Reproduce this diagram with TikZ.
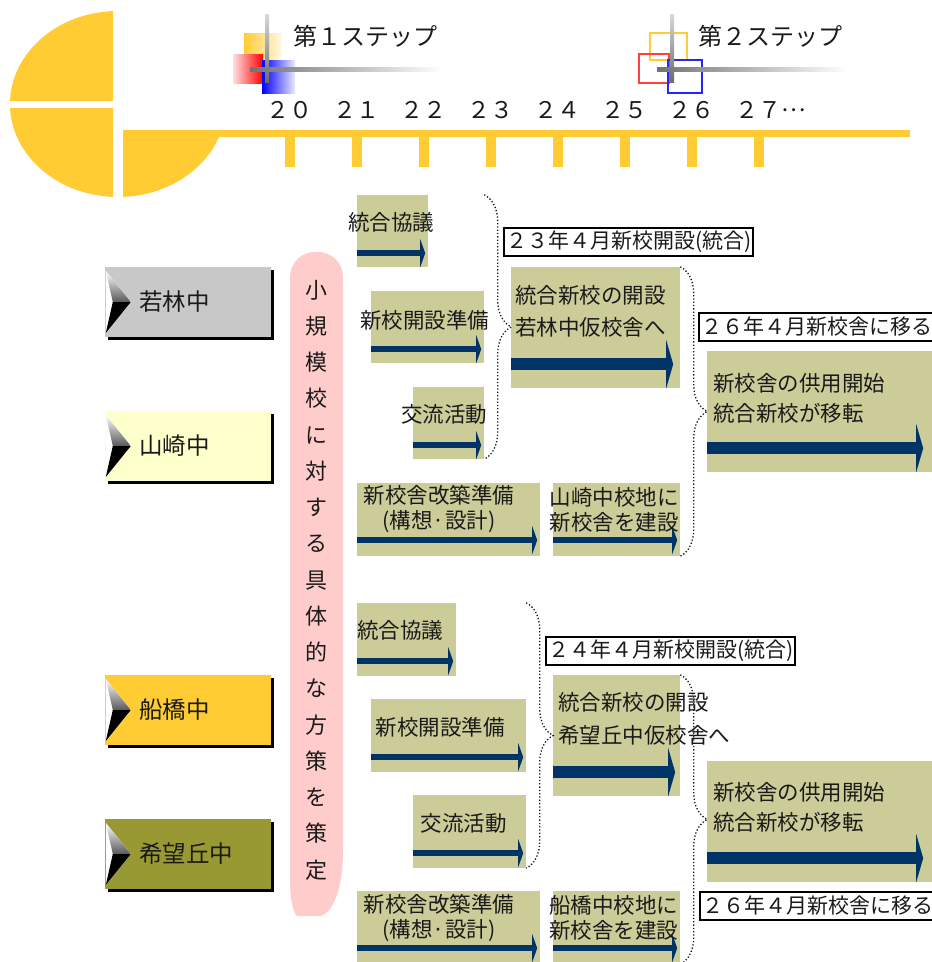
\documentclass[tikz,border=0pt]{standalone}
\usepackage{fontspec}
\setmainfont{Noto Sans CJK JP}
\usetikzlibrary{arrows.meta, decorations.pathreplacing}

\definecolor{keyyellow}{HTML}{FFCC33}
\definecolor{khaki}{HTML}{CCCC99}
\definecolor{navy}{HTML}{003366}
\definecolor{ink}{HTML}{1A1A1A}
\definecolor{btngray}{HTML}{C8C8C8}
\definecolor{btncream}{HTML}{FFFFCC}
\definecolor{btngold}{HTML}{FFCC33}
\definecolor{btnolive}{HTML}{999933}
\definecolor{banner}{HTML}{FFCCCC}

\begin{document}
\begin{tikzpicture}[x=1pt, y=-1pt,
    act/.style={fill=khaki, inner sep=0pt},
    txt/.style={inner sep=0pt, text=ink, font=\fontsize{21.5}{25}\selectfont},
    tag/.style={draw=black, line width=2pt, fill=white, inner xsep=2pt, inner ysep=0pt,
        minimum height=28pt, text=ink, font=\fontsize{21}{25}\selectfont},
    school/.style={minimum width=166pt, minimum height=70pt, inner sep=0pt, text width=98pt,
        align=left, text=ink, font=\fontsize{23.5}{28}\selectfont,
        preaction={fill=black, transform canvas={shift={(3pt,-3pt)}}}},
    flow/.style={navy, line width=6pt, -{Triangle[length=5pt, width=28pt]}},
    bigflow/.style={navy, line width=12pt, -{Triangle[length=7pt, width=48pt]}},
    curly/.style={draw=ink, decorate, decoration={brace, amplitude=27pt}, dotted, line width=1.3pt}]
\useasboundingbox (0,0) rectangle (932,962);

% key shaped time line
\begin{scope}
  \clip (0,0) rectangle (113,100);
  \fill[keyyellow] (118,104) ellipse [x radius=108pt, y radius=93pt];
\end{scope}
\begin{scope}
  \clip (0,108) rectangle (113,210);
  \fill[keyyellow] (118,104) ellipse [x radius=108pt, y radius=93pt];
\end{scope}
\begin{scope}
  \clip (123,130) rectangle (240,210);
  \fill[keyyellow] (118,104) ellipse [x radius=108pt, y radius=93pt];
\end{scope}
\fill[keyyellow] (123,130) rectangle (910,137);
\foreach \i/\yr in {0/２０, 1/２１, 2/２２, 3/２３, 4/２４, 5/２５, 6/２６, 7/２７\raisebox{0.32em}{…}} {
  \fill[keyyellow] ({290+67*\i-5},137) rectangle ++(10,30);
  \node[anchor=west, inner sep=0pt, text=ink, font=\fontsize{23}{25}\selectfont] (yr\i) at ({290+67*\i-24},110) {\yr};
}

% step markers
\shade[left color=keyyellow, right color=keyyellow!15] (244,33) rectangle (281,60);
\shade[left color=red!12, right color=red] (233,54) rectangle (263,83);
\shade[left color=blue, right color=blue!8] (262,60) rectangle (295,93);
\shade[top color=gray!30, bottom color=gray!85!black] (265,14) rectangle (269,82);
\shade[left color=gray!90!black, right color=white] (250,67) rectangle (442,71);
\node[inner sep=0pt, text=ink, font=\fontsize{24}{28}\selectfont] (step1) at (365,36) {第１ステップ};

\draw[keyyellow, line width=1.3pt] (650,33) rectangle (687,60);
\draw[red!75, line width=1.3pt] (639,54) rectangle (669,83);
\draw[blue!85, line width=1.3pt] (668,60) rectangle (702,93);
\shade[top color=gray!30, bottom color=gray!85!black] (670,14) rectangle (674,82);
\shade[left color=gray!90!black, right color=white] (657,67) rectangle (847,71);
\node[inner sep=0pt, text=ink, font=\fontsize{24}{28}\selectfont] (step2) at (770,36) {第２ステップ};

% schools
\node[school, fill=btngray] (wakabayashi) at (188,302) {若林中};
\node[school, fill=btncream] (yamazaki) at (188,446) {山崎中};
\node[school, fill=btngold] (funabashi) at (188,710) {船橋中};
\node[school, fill=btnolive] (kibougaoka) at (188,854) {希望丘中};
\foreach \s in {wakabayashi, yamazaki, funabashi, kibougaoka} {
  \fill[white] (\s.west) ++(1,-31) -- ++(25,31) -- ++(-25,31) -- cycle;
  \shade[top color=white, bottom color=gray!70!black] (\s.west) ++(1,-31) -- ++(25,31) -- ++(-18,0) -- cycle;
  \fill[black] (\s.west) ++(8,0) -- ++(18,0) -- ++(-25,31) -- cycle;
}

% policy banner
\fill[banner] (290,278) .. controls (290,243) and (343,243) .. (343,278) -- (343,852)
  .. controls (343,890) and (332,914) .. (320,916) -- (297,916)
  .. controls (293,912) and (290,900) .. (290,880) -- cycle;
\node[inner sep=0pt, align=center, text=ink, font=\fontsize{22}{36.25}\selectfont] (policy) at (316,580)
  {小\\規\\模\\校\\に\\対\\す\\る\\具\\体\\的\\な\\方\\策\\を\\策\\定};

% activity boxes
\foreach \n/\x/\y/\w/\h in {kyogi1/392.5/231/71/72, jyunbi1/427.5/327/113/72, koryu1/448.5/423/71/72,
    kaichiku1/448.5/519.5/183/73, kensetsu1/616.5/519.5/127/73, kaisetsu1/595.5/327.5/169/121,
    kyoyo1/819.5/411.5/225/121,
    kyogi2/406.5/639.5/99/73, jyunbi2/448.5/735.5/155/73, koryu2/469.5/831.5/113/73,
    kaichiku2/448.5/927.5/183/73, kensetsu2/616.5/927.5/127/73, kaisetsu2/616.5/735.5/127/121,
    kyoyo2/819.5/821.5/225/121}
  \node[act, minimum width=\w pt, minimum height=\h pt] (\n) at (\x,\y) {};

% arrows
\foreach \n/\d in {kyogi1/14, jyunbi1/14, koryu1/14, kaichiku1/16, kensetsu1/16,
    kyogi2/15, jyunbi2/15, koryu2/15, kaichiku2/16, kensetsu2/16}
  \draw[flow] ([shift={(0,-\d)}]\n.south west) -- ([shift={(-3,-\d)}]\n.south east);
\foreach \n/\e in {kaisetsu1/7, kyoyo1/9, kaisetsu2/5, kyoyo2/9}
  \draw[bigflow] ([shift={(0,-24)}]\n.south west) -- ([shift={(-\e,-24)}]\n.south east);

% braces
\draw[curly] (koryu1.east |- kyogi1.north) -- (koryu1.south east);
\draw[curly] (kaisetsu1.north east) -- (kensetsu1.south east);
\draw[curly] (koryu2.east |- kyogi2.north) -- (koryu2.south east);
\draw[curly] (kaisetsu2.north east) -- (kaisetsu2.east |- kensetsu2.south);

% texts
\node[txt] (kyogi1-t) at (391,222) {統合協議};
\node[txt] (jyunbi1-t) at (424.5,320) {新校開設準備};
\node[txt] (koryu1-t) at (444,414) {交流活動};
\node[txt, align=center] (kaichiku1-t) at (439,509.5) {新校舎改築準備\\(構想·設計)};
\node[txt, align=center] (kensetsu1-t) at (614,509.5) {山崎中校地に\\新校舎を建設};
\node[txt, align=left, anchor=west, font=\fontsize{21.5}{32}\selectfont] (kaisetsu1-t) at (515,311)
  {統合新校の開設\\若林中仮校舎へ};
\node[txt, align=left, anchor=west, font=\fontsize{21.5}{30}\selectfont] (kyoyo1-t) at (713,398)
  {新校舎の供用開始\\統合新校が移転};
\node[tag, anchor=west] (open23) at (503,242) {２３年４月新校開設(統合)};
\node[tag, anchor=west] (move26a) at (698,327) {２６年４月新校舎に移る};

\node[txt] (kyogi2-t) at (400,630) {統合協議};
\node[txt] (jyunbi2-t) at (440,727) {新校開設準備};
\node[txt] (koryu2-t) at (463.5,823) {交流活動};
\node[txt, align=center] (kaichiku2-t) at (439,918) {新校舎改築準備\\(構想·設計)};
\node[txt, align=center] (kensetsu2-t) at (613.5,918) {船橋中校地に\\新校舎を建設};
\node[txt, align=left, anchor=west, font=\fontsize{21.5}{33}\selectfont] (kaisetsu2-t) at (558,718.5)
  {統合新校の開設\\希望丘中仮校舎へ};
\node[txt, align=left, anchor=west, font=\fontsize{21.5}{30}\selectfont] (kyoyo2-t) at (713,807.5)
  {新校舎の供用開始\\統合新校が移転};
\node[tag, anchor=west] (open24) at (545,651) {２４年４月新校開設(統合)};
\node[tag, anchor=west] (move26b) at (699,906) {２６年４月新校舎に移る};
\end{tikzpicture}
\end{document}
